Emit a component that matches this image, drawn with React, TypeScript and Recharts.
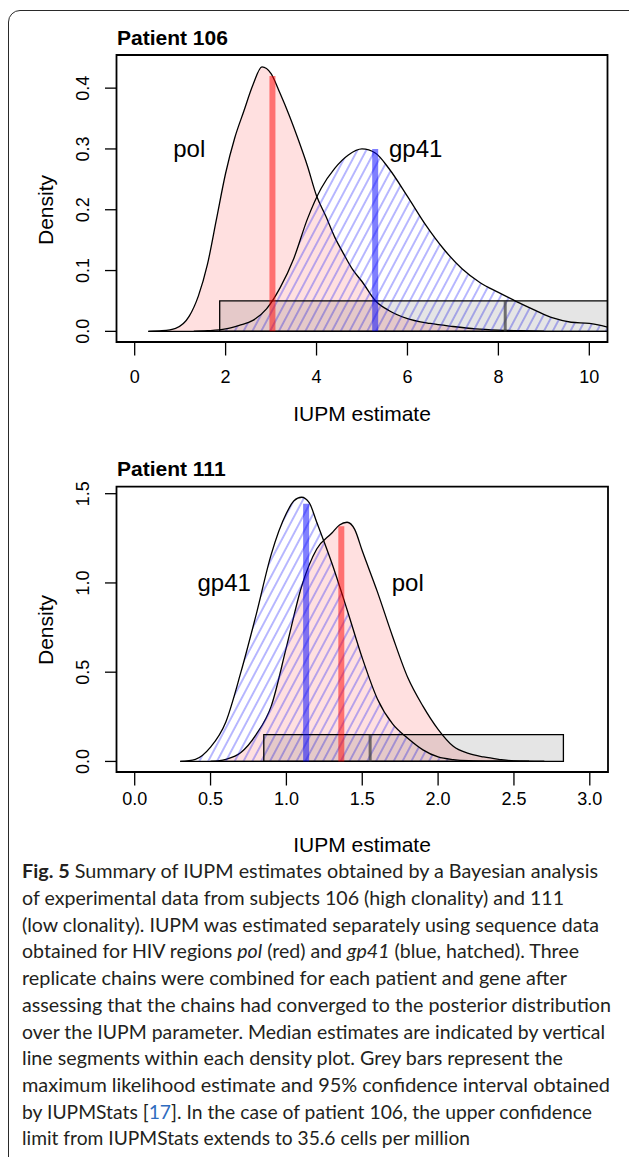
import React from "react";
import { Area, ComposedChart, ReferenceArea, ReferenceDot, ReferenceLine, XAxis, YAxis } from "recharts";

// Patient 106 posterior densities
const p106PolX = [0.3, 0.6, 0.9, 1.2, 1.4, 1.6, 1.8, 2.0, 2.2, 2.4, 2.6, 2.8, 3.0, 3.2, 3.4, 3.6, 3.8, 4.0, 4.2, 4.4, 4.6, 4.8, 5.0, 5.3, 5.6, 6.0, 6.5, 7.0, 7.5, 8.0, 8.5, 9.0];
const p106PolY = [0, 0.001, 0.005, 0.025, 0.058, 0.11, 0.185, 0.26, 0.318, 0.362, 0.405, 0.435, 0.424, 0.391, 0.355, 0.315, 0.272, 0.223, 0.19, 0.155, 0.127, 0.101, 0.082, 0.05, 0.034, 0.021, 0.013, 0.008, 0.004, 0.002, 0.001, 0];
const p106GpX = [1.3, 1.6, 2.0, 2.3, 2.6, 2.9, 3.2, 3.5, 3.8, 4.1, 4.4, 4.7, 5.0, 5.3, 5.6, 6.0, 6.4, 6.8, 7.2, 7.6, 8.0, 8.4, 8.8, 9.2, 9.6, 10.0, 10.4];
const p106GpY = [0, 0.001, 0.004, 0.01, 0.018, 0.037, 0.072, 0.12, 0.185, 0.235, 0.268, 0.29, 0.3, 0.293, 0.267, 0.222, 0.175, 0.135, 0.103, 0.08, 0.064, 0.049, 0.035, 0.022, 0.015, 0.013, 0.007];
const p106Medians = [3.03, 5.29]; // pol, gp41
const p106MedianTops = [0.42, 0.3];
const p106Mle = 8.15;
const p106Ci = [1.87, 35.6];
const p106XTicks = [0, 2, 4, 6, 8, 10];
const p106YTicks = [0, 0.1, 0.2, 0.3, 0.4];

// Patient 111
const p111PolX = [0.5, 0.6, 0.7, 0.8, 0.9, 1.0, 1.1, 1.2, 1.3, 1.35, 1.4, 1.45, 1.5, 1.6, 1.7, 1.8, 1.9, 2.0, 2.1, 2.2, 2.3, 2.4, 2.5, 2.7];
const p111PolY = [0, 0.012, 0.05, 0.15, 0.31, 0.64, 0.98, 1.19, 1.28, 1.325, 1.34, 1.3, 1.18, 0.95, 0.7, 0.47, 0.31, 0.18, 0.085, 0.045, 0.025, 0.012, 0.003, 0];
const p111GpX = [0.3, 0.4, 0.5, 0.6, 0.7, 0.8, 0.9, 1.0, 1.05, 1.1, 1.15, 1.2, 1.3, 1.4, 1.5, 1.6, 1.7, 1.8, 1.9, 2.0, 2.1, 2.2, 2.4, 2.6];
const p111GpY = [0, 0.012, 0.08, 0.22, 0.5, 0.82, 1.16, 1.39, 1.46, 1.48, 1.45, 1.34, 1.11, 0.85, 0.58, 0.35, 0.21, 0.13, 0.065, 0.025, 0.01, 0.004, 0.001, 0];
const p111Medians = [1.362, 1.13]; // pol, gp41
const p111MedianTops = [1.318, 1.444];
const p111Mle = 1.552;
const p111Ci = [0.851, 2.826];
const p111XTicks = [0, 0.5, 1, 1.5, 2, 2.5, 3];
const p111YTicks = [0, 0.5, 1, 1.5];

const captionLines = [
  [{ t: "Fig. 5", b: true }, { t: "  Summary of IUPM estimates obtained by a Bayesian analysis" }],
  [{ t: "of experimental data from subjects 106 (high clonality) and 111" }],
  [{ t: "(low clonality). IUPM was estimated separately using sequence data" }],
  [{ t: "obtained for HIV regions " }, { t: "pol", i: true }, { t: " (red) and " }, { t: "gp41", i: true }, { t: " (blue, hatched). Three" }],
  [{ t: "replicate chains were combined for each patient and gene after" }],
  [{ t: "assessing that the chains had converged to the posterior distribution" }],
  [{ t: "over the IUPM parameter. Median estimates are indicated by vertical" }],
  [{ t: "line segments within each density plot. Grey bars represent the" }],
  [{ t: "maximum likelihood estimate and 95% confidence interval obtained" }],
  [{ t: "by IUPMStats [" }, { t: "17", c: "#2f6cc0" }, { t: "]. In the case of patient 106, the upper confidence" }],
  [{ t: "limit from IUPMStats extends to 35.6 cells per million" }],
];
const captionEnds = [598, 564, 599, 579, 567, 611, 605, 563, 610, 592, 470];

const rows = (xs: number[], ys: number[]) => xs.map((x, i) => ({ x, y: ys[i] }));

function XTick(props: any) {
  const { x, y, payload, offsetY, digits } = props;
  return (
    <text x={x} y={y + offsetY} textAnchor="middle" dominantBaseline="central" fontSize={18} fill="#000">
      {Number(payload.value).toFixed(digits)}
    </text>
  );
}

function YTick(props: any) {
  const { x, y, payload } = props;
  const cx = x - 19.5;
  return (
    <text x={cx} y={y} transform={`rotate(-90, ${cx}, ${y})`} textAnchor="middle" dominantBaseline="central" fontSize={18} fill="#000">
      {Number(payload.value).toFixed(1)}
    </text>
  );
}

function Panel(p: any) {
  const pol = rows(p.polX, p.polY);
  const gp = rows(p.gpX, p.gpY);
  const hatch = `hatch-${p.id}`;
  return (
    <ComposedChart width={629} height={440} margin={{ top: p.top, right: p.right, bottom: 38, left: 56.5 }}>
      <defs>
        <pattern id={hatch} width={7.8} height={10} patternUnits="userSpaceOnUse" patternTransform="rotate(28)">
          <line x1={3.9} y1={0} x2={3.9} y2={10} stroke="#1010ff" strokeOpacity={0.55} strokeWidth={1.1} />
        </pattern>
      </defs>
      <XAxis
        type="number"
        dataKey="x"
        domain={p.xDomain}
        ticks={p.xTicks}
        interval={0}
        allowDataOverflow
        axisLine={false}
        tickLine={{ stroke: "#000", strokeWidth: 1.3 }}
        tickSize={13.5}
        height={60}
        tick={<XTick offsetY={p.xLabelDy} digits={p.xDigits} />}
      />
      <YAxis
        type="number"
        domain={p.yDomain}
        ticks={p.yTicks}
        interval={0}
        allowDataOverflow
        axisLine={false}
        tickLine={{ stroke: "#000", strokeWidth: 1.3 }}
        tickSize={11.5}
        width={60}
        tick={<YTick />}
      />
      <Area data={pol} dataKey="y" type="monotone" baseValue={0} fill="rgba(255,0,0,0.12)" fillOpacity={1} stroke="#000" strokeWidth={1.3} isAnimationActive={false} />
      <Area data={gp} dataKey="y" type="monotone" baseValue={0} fill={`url(#${hatch})`} fillOpacity={1} stroke="#000" strokeWidth={1.3} isAnimationActive={false} />
      <ReferenceLine segment={[{ x: p.polX[0], y: 0 }, { x: p.polX[p.polX.length - 1], y: 0 }]} stroke="#000" strokeWidth={1.3} ifOverflow="hidden" />
      <ReferenceLine segment={[{ x: p.gpX[0], y: 0 }, { x: p.gpX[p.gpX.length - 1], y: 0 }]} stroke="#000" strokeWidth={1.3} ifOverflow="hidden" />
      <ReferenceLine segment={[{ x: p.medians[0], y: 0 }, { x: p.medians[0], y: p.medianTops[0] }]} stroke="rgba(255,0,0,0.5)" strokeWidth={6} />
      <ReferenceLine segment={[{ x: p.medians[1], y: 0 }, { x: p.medians[1], y: p.medianTops[1] }]} stroke="rgba(0,0,255,0.5)" strokeWidth={6} />
      <ReferenceArea x1={p.ci[0]} x2={p.ci[1]} y1={0} y2={p.barTop} fill="rgba(0,0,0,0.1)" fillOpacity={1} stroke="#000" strokeWidth={1.3} ifOverflow="hidden" />
      <ReferenceLine segment={[{ x: p.mle, y: 0 }, { x: p.mle, y: p.barTop }]} stroke="rgba(60,60,60,0.7)" strokeWidth={3} />
      {p.labels.map((l: any) => (
        <ReferenceDot key={l.text} x={l.x} y={l.y} r={1} fill="none" stroke="none" label={{ value: l.text, position: "center", fontSize: 24, fill: "#000" }} />
      ))}
      <ReferenceArea x1={p.xDomain[0]} x2={p.xDomain[1]} y1={p.yDomain[0]} y2={p.yDomain[1]} fill="none" stroke="#000" strokeWidth={1.8} ifOverflow="visible" />
    </ComposedChart>
  );
}

export default function App() {
  const font = "'Liberation Sans', Arial, Helvetica, sans-serif";
  return (
    <div style={{ position: "absolute", left: 0, top: 0, width: 629, height: 1157, overflow: "hidden", background: "#fff", fontFamily: font }}>
      <div style={{ position: "absolute", left: 8, top: 10, width: 640, height: 1200, border: "1.5px solid #2a2a2a", borderRadius: 12, boxSizing: "border-box" }} />
      <div style={{ position: "absolute", left: 0, top: 0 }}>
        <Panel
          id="p106"
          top={55}
          right={21.5}
          polX={p106PolX}
          polY={p106PolY}
          gpX={p106GpX}
          gpY={p106GpY}
          medians={p106Medians}
          medianTops={p106MedianTops}
          mle={p106Mle}
          ci={p106Ci}
          barTop={0.05}
          xDomain={[-0.4, 10.4]}
          yDomain={[-0.0175, 0.4545]}
          xTicks={p106XTicks}
          yTicks={p106YTicks}
          xDigits={0}
          xLabelDy={19}
          labels={[{ text: "pol", x: 1.2, y: 0.3 }, { text: "gp41", x: 6.18, y: 0.3 }]}
        />
      </div>
      <div style={{ position: "absolute", left: 0, top: 430 }}>
        <Panel
          id="p111"
          top={56.7}
          right={21}
          polX={p111PolX}
          polY={p111PolY}
          gpX={p111GpX}
          gpY={p111GpY}
          medians={p111Medians}
          medianTops={p111MedianTops}
          mle={p111Mle}
          ci={p111Ci}
          barTop={0.15}
          xDomain={[-0.12, 3.12]}
          yDomain={[-0.0592, 1.5392]}
          xTicks={p111XTicks}
          yTicks={p111YTicks}
          xDigits={1}
          xLabelDy={11.5}
          labels={[{ text: "gp41", x: 0.59, y: 1.0 }, { text: "pol", x: 1.8, y: 1.0 }]}
        />
      </div>
      <svg width={629} height={1157} style={{ position: "absolute", left: 0, top: 0, pointerEvents: "none" }}>
        <text x={117} y={45} fontSize={21} fontWeight="bold" fontFamily={font}>Patient 106</text>
        <text x={117} y={476} fontSize={21} fontWeight="bold" fontFamily={font}>Patient 111</text>
        <text x={362} y={421} fontSize={21} textAnchor="middle" fontFamily={font}>IUPM estimate</text>
        <text x={362} y={852} fontSize={21} textAnchor="middle" fontFamily={font}>IUPM estimate</text>
        <text x={53} y={210} fontSize={21} textAnchor="middle" fontFamily={font} transform="rotate(-90, 53, 210)">Density</text>
        <text x={53} y={630} fontSize={21} textAnchor="middle" fontFamily={font} transform="rotate(-90, 53, 630)">Density</text>
        {captionLines.map((line, i) => (
          <text
            key={i}
            x={22}
            y={878.3 + i * 26.7}
            fontSize={19}
            fill="#231f20"
            fontFamily="Lato, 'Open Sans', sans-serif"
            textLength={captionEnds[i] - 22}
            lengthAdjust="spacingAndGlyphs"
          >
            {line.map((s: any, j: number) => (
              <tspan key={j} fontWeight={s.b ? "bold" : "normal"} fontStyle={s.i ? "italic" : "normal"} fill={s.c || "#231f20"}>
                {s.t}
              </tspan>
            ))}
          </text>
        ))}
      </svg>
    </div>
  );
}
